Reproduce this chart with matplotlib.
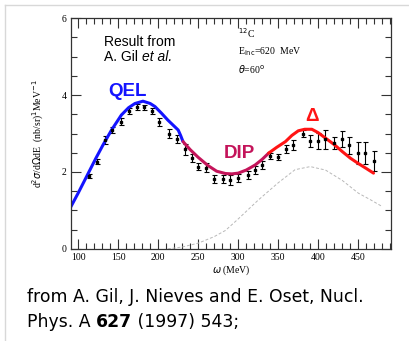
import matplotlib
matplotlib.use("Agg")
import matplotlib.pyplot as plt
from matplotlib.lines import Line2D
from matplotlib.ticker import MultipleLocator

# model curves (omega in MeV, cross section)
qel_w = [90, 100, 112, 122, 131, 142, 154, 163, 171, 181, 190, 196, 204, 212, 220, 225, 228, 231]
qel_v = [1.06, 1.45, 1.94, 2.35, 2.70, 3.10, 3.48, 3.67, 3.78, 3.84, 3.78, 3.70, 3.53, 3.35, 3.19, 3.09, 2.95, 2.79]

dip_w = [231, 240, 250, 262, 273, 284, 292, 300, 310, 321, 330, 338]
dip_v = [2.79, 2.58, 2.38, 2.17, 2.02, 1.96, 1.95, 1.97, 2.05, 2.18, 2.33, 2.49]

delta_w = [338, 348, 359, 367, 375, 383, 392, 400, 409, 420, 430, 440, 450, 460, 469]
delta_v = [2.49, 2.64, 2.79, 2.95, 3.07, 3.11, 3.11, 3.02, 2.88, 2.71, 2.53, 2.36, 2.22, 2.09, 1.97]

dash_w = [212, 230, 250, 270, 284, 300, 325, 350, 371, 390, 409, 430, 450, 465, 480]
dash_v = [0.0, 0.05, 0.15, 0.32, 0.48, 0.78, 1.27, 1.72, 2.06, 2.14, 2.05, 1.78, 1.45, 1.28, 1.10]

# experimental points
exp_w = [113, 123, 133, 142, 153, 163, 173, 182, 192, 201, 213, 224, 233, 242, 250, 260, 270, 281,
         290, 300, 312, 321, 330, 340, 350, 360, 369, 381, 390, 400, 409, 419, 429, 438, 450, 458, 469]
exp_v = [1.90, 2.27, 2.83, 3.09, 3.31, 3.59, 3.68, 3.68, 3.59, 3.29, 3.00, 2.85, 2.59, 2.36, 2.14, 2.11, 1.81, 1.81,
         1.79, 1.84, 1.92, 2.05, 2.18, 2.42, 2.40, 2.59, 2.70, 3.00, 2.81, 2.81, 2.85, 2.75, 2.86, 2.70, 2.50, 2.50, 2.29]
exp_e = [0.06, 0.07, 0.10, 0.08, 0.08, 0.08, 0.08, 0.07, 0.08, 0.10, 0.12, 0.10, 0.14, 0.10, 0.10, 0.12, 0.10, 0.10,
         0.12, 0.10, 0.10, 0.10, 0.10, 0.08, 0.08, 0.10, 0.12, 0.08, 0.15, 0.20, 0.25, 0.15, 0.20, 0.22, 0.28, 0.28, 0.26]

BLUE = "#1414ff"
CRIMSON = "#c4145a"
RED = "#ff1414"
SERIF = "Liberation Serif"
SANS = "Liberation Sans"
CAPTION = "DejaVu Sans"

fig = plt.figure(figsize=(4.10, 3.41), dpi=100)
ax = fig.add_axes([0.173, 0.270, 0.781, 0.677])

ax.plot(dash_w, dash_v, color="#b8b8b8", lw=0.7, ls=(0, (3, 2)))
ax.errorbar(exp_w, exp_v, yerr=exp_e, fmt="s", ms=2, color="black",
            ecolor="black", elinewidth=0.8, capsize=1.8, capthick=0.8)
ax.plot(qel_w, qel_v, color=BLUE, lw=2.2, solid_capstyle="round")
ax.plot(dip_w, dip_v, color=CRIMSON, lw=2.2, solid_capstyle="round")
ax.plot(delta_w, delta_v, color=RED, lw=2.2, solid_capstyle="round")

ax.set_xlim(91, 491)
ax.set_ylim(0, 6)
ax.xaxis.set_major_locator(MultipleLocator(50))
ax.xaxis.set_minor_locator(MultipleLocator(10))
ax.yaxis.set_major_locator(MultipleLocator(2))
ax.yaxis.set_minor_locator(MultipleLocator(0.5))
ax.tick_params(which="both", direction="in", top=True, right=True,
               color="#333333", width=0.8)
ax.tick_params(which="major", length=7, labelsize=7, pad=3)
ax.tick_params(which="minor", length=4)
for lab in ax.get_xticklabels() + ax.get_yticklabels():
    lab.set_family(SERIF)
for sp in ax.spines.values():
    sp.set_color("#333333")
    sp.set_linewidth(0.9)

ax.set_xlabel(r"$\omega$ (MeV)", fontsize=7, family=SERIF, labelpad=1)
ax.set_ylabel(r"d$^2\sigma$/d$\Omega$dE  (nb/sr)$^1$MeV$^{-1}$", fontsize=7,
              family=SERIF, labelpad=11)

ax.text(162, 4.09, "QEL", color=BLUE, fontsize=13.5, fontweight="bold",
        family=SANS, ha="center", va="center")
ax.text(302, 2.49, "DIP", color=CRIMSON, fontsize=13.5, fontweight="bold",
        family=SANS, ha="center", va="center")
ax.text(392, 3.44, "Δ", color=RED, fontsize=13.5, fontweight="bold",
        family=SANS, ha="center", va="center")

ax.text(132, 5.38, "Result from", fontsize=10, family=SANS, va="center")
t = ax.text(132, 4.99, "A. Gil ", fontsize=10, family=SANS, va="center")
ax.annotate("et al.", xy=(1, 0), xycoords=t, fontsize=10, family=SANS,
            style="italic", va="bottom")

ax.text(300, 5.60, r"$^{12}$C", fontsize=7, family=SERIF, va="center")
ax.text(300, 5.12, r"E$_{\rm inc}$=620  MeV", fontsize=7, family=SERIF, va="center")
ax.text(300, 4.65, r"$\theta$=60$^{\rm o}$", fontsize=7, family=SERIF, va="center")

# slide frame lines
fig.add_artist(Line2D([5 / 410, 5 / 410], [0, 1 - 5 / 341], color="#d8d8d8", lw=1))
fig.add_artist(Line2D([5 / 410, 1], [1 - 5 / 341, 1 - 5 / 341], color="#d8d8d8", lw=1))

fig.text(27 / 410, 1 - 297 / 341, "from A. Gil, J. Nieves and E. Oset, Nucl.",
         fontsize=12.4, family=CAPTION, va="center")
c = fig.text(27 / 410, 1 - 322 / 341, "Phys. A ", fontsize=12.4,
             family=CAPTION, va="center")
a1 = ax.annotate("627", xy=(1, 0), xycoords=c, fontsize=12.4, family=CAPTION,
                 fontweight="bold", va="bottom", annotation_clip=False)
ax.annotate(" (1997) 543;", xy=(1, 0), xycoords=a1, fontsize=12.4,
            family=CAPTION, va="bottom", annotation_clip=False)

fig.savefig("out.png", dpi=100)
